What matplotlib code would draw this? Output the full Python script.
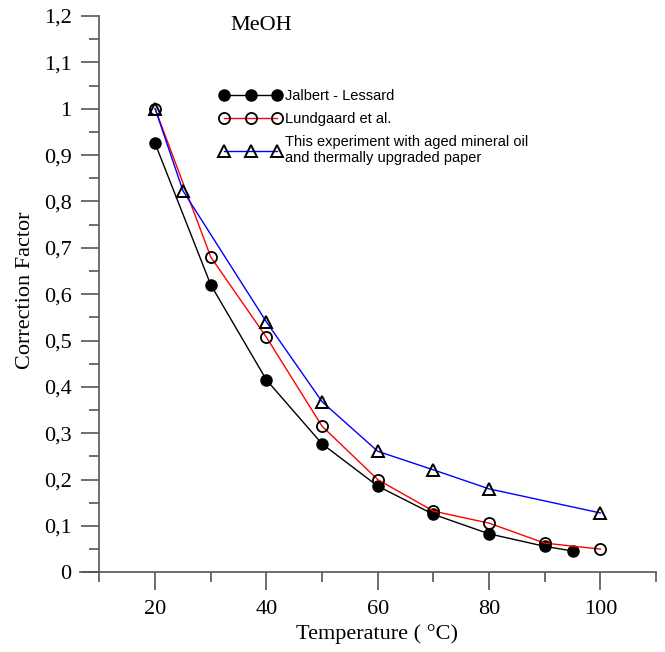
import matplotlib
matplotlib.use("Agg")
import matplotlib.pyplot as plt
from matplotlib.ticker import FixedLocator

# DATA
jl_temp = [20, 30, 40, 50, 60, 70, 80, 90, 95]
jl_cf = [0.925, 0.62, 0.415, 0.277, 0.186, 0.125, 0.083, 0.056, 0.046]

lund_temp = [20, 30, 40, 50, 60, 70, 80, 90, 100]
lund_cf = [1.0, 0.68, 0.507, 0.315, 0.2, 0.132, 0.106, 0.063, 0.05]

exp_temp = [20, 25, 40, 50, 60, 70, 80, 100]
exp_cf = [1.0, 0.823, 0.54, 0.368, 0.261, 0.221, 0.18, 0.128]

labels = ["Jalbert - Lessard", "Lundgaard et al.",
          "This experiment with aged mineral oil\nand thermally upgraded paper"]

x_major = [20, 40, 60, 80, 100]
x_minor = [10, 30, 50, 70, 90, 110]
y_major = [0, 0.1, 0.2, 0.3, 0.4, 0.5, 0.6, 0.7, 0.8, 0.9, 1.0, 1.1, 1.2]
y_labels = ["0", "0,1", "0,2", "0,3", "0,4", "0,5", "0,6", "0,7", "0,8",
            "0,9", "1", "1,1", "1,2"]

# PLOT
W, H = 665, 652
fig = plt.figure(figsize=(W / 100, H / 100), dpi=100)
ax = fig.add_axes([80 / W, 1 - 572.3 / H, 576 / W, 556.3 / H])

serif = "Liberation Serif"
sans = "Liberation Sans"
axis_col = "#555555"

ax.plot(jl_temp, jl_cf, color="black", lw=1.0, marker="o", ms=8,
        mfc="black", mec="black", label=labels[0])
ax.plot(lund_temp, lund_cf, color="red", lw=1.0, marker="o", ms=8,
        mfc="none", mec="black", mew=1.3, label=labels[1])
ax.plot(exp_temp, exp_cf, color="blue", lw=1.0, marker="^", ms=8,
        mfc="none", mec="black", mew=1.4, label=labels[2])

ax.set_xlim(6.5, 110)
ax.set_ylim(0, 1.2)

for s in ["top", "right"]:
    ax.spines[s].set_visible(False)
ax.spines["left"].set_position(("data", 10))
for s in ["left", "bottom"]:
    ax.spines[s].set_color(axis_col)
    ax.spines[s].set_linewidth(1.2)

ax.xaxis.set_major_locator(FixedLocator(x_major))
ax.xaxis.set_minor_locator(FixedLocator(x_minor))
ax.set_yticks(y_major)
ax.set_yticklabels(y_labels)
ax.yaxis.set_minor_locator(FixedLocator([v + 0.05 for v in y_major[:-1]]))

ax.tick_params(which="both", direction="out", color=axis_col, width=1.2)
ax.tick_params(which="major", length=13, pad=7, labelsize=16)
ax.tick_params(which="minor", length=7)
for lab in ax.get_xticklabels() + ax.get_yticklabels():
    lab.set_fontfamily(serif)

fig.text(26 / W, 1 - 290 / H, "Correction Factor", rotation=90,
         ha="center", va="center", fontsize=16, family=serif)
fig.text(377 / W, 1 - 634 / H, "Temperature ( °C)",
         ha="center", va="center", fontsize=16, family=serif)
fig.text(261 / W, 1 - 25 / H, "MeOH",
         ha="center", va="center", fontsize=16, family=serif)

leg = ax.legend(loc="upper left", bbox_to_anchor=(220 / W, 1 - 89 / H),
                bbox_transform=fig.transFigure, frameon=False,
                numpoints=3, handlelength=4.2, handletextpad=0.25,
                labelspacing=0.62, borderpad=0, borderaxespad=0,
                prop={"family": sans, "size": 10.5})
for t in leg.get_texts():
    t.set_linespacing(1.2)

fig.savefig("out.png", dpi=100)
